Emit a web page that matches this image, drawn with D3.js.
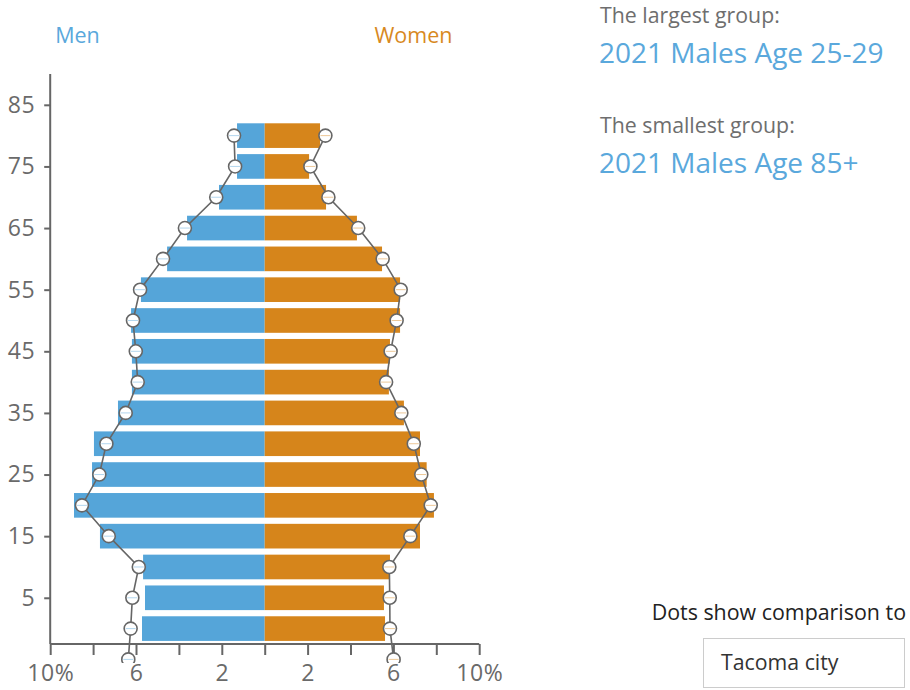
<!DOCTYPE html>
<html>
<head>
<meta charset="utf-8">
<script src="https://cdn.jsdelivr.net/npm/d3@7"></script>
<style>
  html, body { margin: 0; padding: 0; background: #fff; }
  svg { display: block; font-family: "Open Sans", "Noto Sans", sans-serif; }
</style>
</head>
<body>
<svg id="chart" width="910" height="690"></svg>
<script>
// Vertical positions of the bar rows (age axis units)
const agePositions = [0, 5, 10, 15, 20, 25, 30, 35, 40, 45, 50, 55, 60, 65, 70, 75, 80];
// Percent of population per row
const menValues   = [5.72, 5.58, 5.67, 7.68, 8.89, 8.05, 7.96, 6.84, 6.19, 6.19, 6.23, 5.77, 4.55, 3.62, 2.13, 1.29, 1.29];
const womenValues = [5.61, 5.56, 5.84, 7.24, 7.89, 7.55, 7.24, 6.49, 5.79, 5.84, 6.31, 6.31, 5.47, 4.30, 2.86, 2.07, 2.58];
// Comparison dots (Tacoma city), one extra row below
const dotPositions = [-5, 0, 5, 10, 15, 20, 25, 30, 35, 40, 45, 50, 55, 60, 65, 70, 75, 80];
const menDots   = [6.36, 6.25, 6.17, 5.87, 7.27, 8.52, 7.71, 7.38, 6.48, 5.92, 6.01, 6.14, 5.81, 4.74, 3.72, 2.26, 1.38, 1.43];
const womenDots = [6.01, 5.84, 5.83, 5.81, 6.79, 7.74, 7.30, 6.95, 6.37, 5.66, 5.87, 6.15, 6.34, 5.50, 4.36, 2.97, 2.13, 2.83];
// Axis ticks
const xTickValues = [-10, -8, -6, -4, -2, 0, 2, 4, 6, 8, 10];
const xTickLabels = {"-10": "10%", "-6": "6", "-2": "2", "2": "2", "6": "6", "10": "10%"};
const yTickValues = [5, 15, 25, 35, 45, 55, 65, 75, 85];

const BLUE = "#55a5d9", ORANGE = "#d6851b", GREY = "#666666";
const FONT = "'Open Sans', 'Noto Sans', sans-serif";

const svg = d3.select("#chart");
const x = d3.scaleLinear().domain([-10, 10]).range([50.2, 479.2]);
const y = d3.scaleLinear().domain([-2.5, 90]).range([644, 74]);

svg.append("defs").append("clipPath").attr("id", "plotclip")
  .append("rect").attr("x", 0).attr("y", 0).attr("width", 910).attr("height", 663);

// Bars
const rows = agePositions.map((a, i) => ({a, m: menValues[i], w: womenValues[i]}));
const bars = svg.append("g");
bars.selectAll("rect.men").data(rows).join("rect")
  .attr("x", d => x(-d.m)).attr("width", d => x(0) - x(-d.m))
  .attr("y", d => y(d.a + 2)).attr("height", d => y(d.a - 2) - y(d.a + 2))
  .attr("fill", BLUE);
bars.selectAll("rect.women").data(rows).join("rect")
  .attr("x", x(0)).attr("width", d => x(d.w) - x(0))
  .attr("y", d => y(d.a + 2)).attr("height", d => y(d.a - 2) - y(d.a + 2))
  .attr("fill", ORANGE);

// Axes
const xAxis = svg.append("g").attr("transform", `translate(0,${y(-2.5)})`)
  .call(d3.axisBottom(x).tickValues(xTickValues).tickSize(11).tickPadding(10)
    .tickFormat(v => xTickLabels[String(v)] || ""));
const yAxis = svg.append("g").attr("transform", `translate(${x(-10)},0)`)
  .call(d3.axisLeft(y).tickValues(yTickValues).tickSize(6).tickPadding(9).tickFormat(d3.format("d")));
[xAxis, yAxis].forEach(g => {
  g.select(".domain").attr("stroke", GREY).attr("stroke-width", 2);
  g.selectAll(".tick line").attr("stroke", GREY).attr("stroke-width", 2);
  g.selectAll(".tick text").attr("fill", "#6a6a6a").attr("font-size", 23)
    .attr("letter-spacing", 0.6).attr("font-family", FONT);
});
xAxis.select(".domain").attr("d", `M${x(-10)},0H${x(10)}`);
yAxis.select(".domain").attr("d", `M0,${y(90)}V${y(-2.5)}`);

// Comparison dots
const dotG = svg.append("g").attr("clip-path", "url(#plotclip)");
const series = [
  {vals: menDots, sign: -1, col: BLUE},
  {vals: womenDots, sign: 1, col: ORANGE}
];
series.forEach(s => {
  const pts = dotPositions.map((a, i) => ({a, v: s.vals[i]}));
  dotG.append("path").datum(pts)
    .attr("fill", "none").attr("stroke", GREY).attr("stroke-width", 1.6)
    .attr("d", d3.line().x(d => x(s.sign * d.v)).y(d => y(d.a)));
  dotG.selectAll(null).data(pts).join("circle")
    .attr("cx", d => x(s.sign * d.v)).attr("cy", d => y(d.a)).attr("r", 6.5)
    .attr("fill", "#fff").attr("stroke", GREY).attr("stroke-width", 1.6);
  dotG.selectAll(null).data(pts).join("line")
    .attr("x1", d => x(s.sign * d.v) - 5).attr("x2", d => x(s.sign * d.v) + 5)
    .attr("y1", d => y(d.a)).attr("y2", d => y(d.a))
    .attr("stroke", s.col).attr("stroke-opacity", 0.45).attr("stroke-width", 1);
});

// Header labels
svg.append("text").attr("x", 77.5).attr("y", 43).attr("text-anchor", "middle")
  .attr("font-size", 21.5).attr("fill", "#5aa8dc").text("Men");
svg.append("text").attr("x", 413.5).attr("y", 43).attr("text-anchor", "middle")
  .attr("font-size", 21.5).attr("fill", "#d8891f").text("Women");

// Right-side info
svg.append("text").attr("x", 600).attr("y", 23).attr("font-size", 21.3).attr("fill", "#6e6e6e").text("The largest group:");
svg.append("text").attr("x", 599).attr("y", 63).attr("font-size", 28).attr("fill", "#5aa8dc").text("2021 Males Age 25-29");
svg.append("text").attr("x", 600).attr("y", 133).attr("font-size", 21.3).attr("fill", "#6e6e6e").text("The smallest group:");
svg.append("text").attr("x", 599).attr("y", 173).attr("font-size", 28).attr("fill", "#5aa8dc").text("2021 Males Age 85+");

svg.append("text").attr("x", 906).attr("y", 620).attr("text-anchor", "end")
  .attr("font-size", 21.4).attr("fill", "#222").text("Dots show comparison to");
svg.append("rect").attr("x", 703.5).attr("y", 638.5).attr("width", 201).attr("height", 49)
  .attr("fill", "#fff").attr("stroke", "#cccccc").attr("stroke-width", 1);
svg.append("text").attr("x", 721).attr("y", 670).attr("font-size", 21.3).attr("fill", "#333").text("Tacoma city");
</script>
</body>
</html>
